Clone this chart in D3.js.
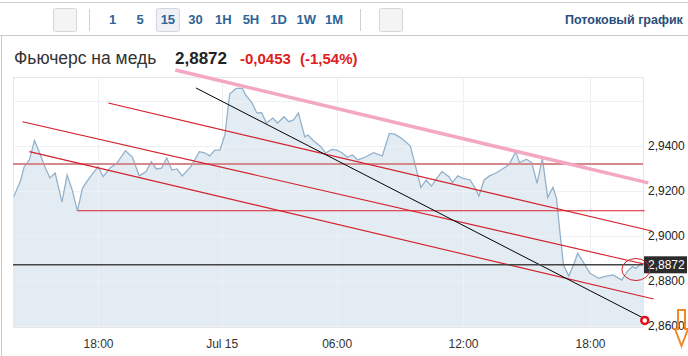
<!DOCTYPE html>
<html>
<head>
<meta charset="utf-8">
<style>
  body { margin: 0; background: #fff; }
  svg { display: block; font-family: "Liberation Sans", Arial, sans-serif; }
</style>
</head>
<body>
<div id="chart"></div>
<script src="https://d3js.org/d3.v7.min.js"></script>
<script>
// copper futures, 15 min bars, Jul 14 -> Jul 15 (day + time)
const times = [
  "14 13:55","14 14:15","14 14:25","14 14:40","14 14:55","14 15:10","14 15:25","14 15:40","14 15:55","14 16:15",
  "14 16:30","14 16:45","14 17:00","14 17:15","14 17:35","14 18:00","14 18:15","14 18:35","14 18:55","14 19:20",
  "14 19:40","14 20:00","14 20:20","14 20:35","14 20:50","14 21:05","14 21:20","14 21:35","14 21:50","14 22:05",
  "14 22:30","14 22:55","14 23:10","14 23:25","14 23:40","14 23:55",
  "15 00:10","15 00:25","15 00:45","15 01:05","15 01:15","15 01:35","15 01:50","15 02:05","15 02:20","15 02:40",
  "15 02:55","15 03:15","15 03:30","15 03:45","15 04:00","15 04:20","15 04:30","15 04:45","15 05:10","15 05:25",
  "15 05:45","15 06:00","15 06:15","15 06:30","15 06:45","15 07:00","15 07:20","15 07:45","15 08:10","15 08:30",
  "15 08:45","15 09:05","15 09:30","15 09:45","15 10:00","15 10:15","15 10:30","15 10:45","15 11:00","15 11:20",
  "15 11:30","15 11:45","15 12:00","15 12:20","15 12:35","15 12:45","15 13:00","15 13:15","15 13:35","15 13:55",
  "15 14:10","15 14:20","15 14:30","15 14:40","15 15:00","15 15:15","15 15:30","15 15:45","15 16:00","15 16:15",
  "15 16:25","15 16:35","15 16:45","15 17:00","15 17:15","15 17:25","15 17:40","15 18:00","15 18:25","15 18:40",
  "15 19:05","15 19:30","15 19:45","15 20:00","15 20:10","15 20:25","15 20:30"
];
const prices = [
  2.9175,2.9249,2.9308,2.9338,2.9424,2.9369,2.9308,2.9258,2.9280,2.9152,
  2.9271,2.9204,2.9112,2.9213,2.9258,2.9308,2.9264,2.9302,2.9324,2.9379,
  2.9351,2.9267,2.9286,2.9330,2.9298,2.9302,2.9347,2.9293,2.9298,2.9267,
  2.9308,2.9375,2.9370,2.9356,2.9382,2.9382,
  2.9449,2.9631,2.9656,2.9656,2.9627,2.9591,2.9547,2.9548,2.9502,2.9524,
  2.9502,2.9530,2.9508,2.9516,2.9547,2.9441,2.9449,2.9427,2.9397,2.9369,
  2.9385,2.9382,2.9370,2.9350,2.9360,2.9338,2.9350,2.9370,2.9356,2.9456,
  2.9453,2.9434,2.9400,2.9308,2.9216,2.9249,2.9222,2.9256,2.9286,2.9264,
  2.9237,2.9267,2.9256,2.9249,2.9212,2.9178,2.9249,2.9267,2.9281,2.9301,
  2.9316,2.9345,2.9375,2.9326,2.9341,2.9326,2.9234,2.9345,2.9172,2.9216,
  2.9168,2.9013,2.8871,2.8822,2.8879,2.8923,2.8886,2.8834,2.8812,2.8819,
  2.8827,2.8804,2.8841,2.8864,2.8856,2.8879,2.8872
];

const lastPrice = 2.8872;
const change = -0.0453;
const changePct = -1.54;

const xTicks = ["14 18:00","15 00:00","15 06:00","15 12:00","15 18:00"];
const yTicks = [2.86, 2.88, 2.90, 2.92, 2.94];
const yGrid = [2.86, 2.88, 2.90, 2.92, 2.94, 2.96];

const periods = ["1","5","15","30","1H","5H","1D","1W","1M"];
const activePeriod = "15";

// drawn annotations: [time, price] end points
const pinkTrend = [["14 21:45", 2.9738], ["15 20:45", 2.9236]];
const blackTrend = [["14 22:45", 2.9658], ["15 20:30", 2.8636]];
const redTrends = [
  [["14 18:30", 2.9591], ["15 20:55", 2.9022]],
  [["14 14:20", 2.9508], ["15 20:45", 2.8871]],
  [["14 14:40", 2.9375], ["15 21:00", 2.8720]]
];
const supportLine = [["14 17:00", 2.9112], ["15 20:35", 2.9112]];
const resistanceLevel = 2.9320;
const targetPoint = ["15 20:35", 2.8625];
const circledPoint = ["15 20:10", 2.8851];

const W = 688, H = 356;
const plot = { left: 13, right: 643, top: 77, bottom: 327 };

const parse = d3.timeParse("%d %H:%M");
const data = times.map((t, i) => ({ t: parse(t), v: prices[i] }));

const ru = d3.formatLocale({ decimal: ",", thousands: " ", grouping: [3], currency: ["", ""], minus: "-" });
const fmt4 = ru.format(".4f");

const x = d3.scaleTime()
  .domain(["14 13:50", "14 18:00", "15 00:00", "15 06:00", "15 12:00", "15 18:00", "15 20:30"].map(parse))
  .range([12.2, 98, 221.7, 336.7, 463, 590, 643]);
const y = d3.scaleLinear().domain([2.86, 2.94]).range([326, 146]);

const svg = d3.select("#chart").append("svg")
  .attr("width", W)
  .attr("height", H);

// ---- toolbar
svg.append("line").attr("x1", 0).attr("x2", W).attr("y1", 2.5).attr("y2", 2.5).attr("stroke", "#d0d0d0");
svg.append("line").attr("x1", 0).attr("x2", W).attr("y1", 35.5).attr("y2", 35.5).attr("stroke", "#c8c8c8");
svg.append("line").attr("x1", 1.5).attr("x2", 1.5).attr("y1", 35).attr("y2", H).attr("stroke", "#c8c8c8");

[53, 379].forEach(bx => {
  svg.append("rect").attr("x", bx + 0.5).attr("y", 8.5).attr("width", 23).attr("height", 23)
    .attr("rx", 2).attr("fill", "#f4f4f4").attr("stroke", "#d6d6d6");
});
[89, 360].forEach(sx => {
  svg.append("line").attr("x1", sx + 0.5).attr("x2", sx + 0.5).attr("y1", 9).attr("y2", 31).attr("stroke", "#cfcfcf");
});

const periodX = d3.scalePoint().domain(periods).range([112.5, 334]);
svg.append("rect")
  .attr("x", periodX(activePeriod) - 11.5).attr("y", 8.5).attr("width", 23).attr("height", 23)
  .attr("rx", 2).attr("fill", "#eef1f5").attr("stroke", "#d2d6dc");
svg.append("g").selectAll("text").data(periods).join("text")
  .attr("x", d => periodX(d)).attr("y", 24)
  .attr("text-anchor", "middle")
  .attr("font-size", 13).attr("font-weight", "bold").attr("fill", "#2f6496")
  .text(d => d);

svg.append("text").attr("x", 565).attr("y", 24)
  .attr("font-size", 12.5).attr("font-weight", "bold").attr("fill", "#284e7a")
  .text("Потоковый график");

// ---- title
const title = svg.append("text").attr("x", 14).attr("y", 64);
title.append("tspan").attr("font-size", 17.5).attr("fill", "#333").text("Фьючерс на медь");
title.append("tspan").attr("x", 175).attr("font-size", 17).attr("font-weight", "bold").attr("fill", "#222")
  .text(fmt4(lastPrice));
title.append("tspan").attr("x", 240).attr("font-size", 15).attr("font-weight", "bold").attr("fill", "#e0201e")
  .text(fmt4(change));
title.append("tspan").attr("x", 300).attr("font-size", 15).attr("font-weight", "bold").attr("fill", "#e0201e")
  .text("(" + ru.format(".2f")(changePct) + "%)");

// ---- plot frame + grid
svg.append("rect")
  .attr("x", plot.left + 0.5).attr("y", plot.top + 0.5)
  .attr("width", plot.right - plot.left).attr("height", plot.bottom - plot.top)
  .attr("fill", "#fff").attr("stroke", "#e6e6e6");

const area = d3.area().x(d => x(d.t)).y0(plot.bottom).y1(d => y(d.v));
const line = d3.line().x(d => x(d.t)).y(d => y(d.v));

svg.append("path").datum(data).attr("d", area).attr("fill", "#e4ecf3");

svg.append("g").selectAll("line").data(yGrid).join("line")
  .attr("x1", plot.left).attr("x2", plot.right)
  .attr("y1", d => Math.round(y(d)) + 0.5).attr("y2", d => Math.round(y(d)) + 0.5)
  .attr("stroke", "#edf1f5");
svg.append("g").selectAll("line").data(xTicks.map(parse)).join("line")
  .attr("x1", d => Math.round(x(d)) + 0.5).attr("x2", d => Math.round(x(d)) + 0.5)
  .attr("y1", plot.top).attr("y2", plot.bottom)
  .attr("stroke", "#edf1f5");

svg.append("path").datum(data).attr("d", line)
  .attr("fill", "none").attr("stroke", "#93b1cb").attr("stroke-width", 1.3);

// ---- axes
const xAxis = d3.axisBottom(x)
  .tickValues(xTicks.map(parse))
  .tickSize(0).tickPadding(0)
  .tickFormat(d => d.getHours() === 0 ? "Jul " + d3.timeFormat("%d")(d) : d3.timeFormat("%H:%M")(d));
const gx = svg.append("g").attr("transform", `translate(0,${plot.bottom + 12})`).call(xAxis);
gx.select(".domain").remove();
gx.selectAll("text").attr("font-size", 12).attr("fill", "#333").attr("font-family", null);

const yAxis = d3.axisRight(y).tickValues(yTicks).tickSize(0).tickPadding(5).tickFormat(fmt4);
const gy = svg.append("g").attr("transform", `translate(${plot.right},0)`).call(yAxis);
gy.select(".domain").remove();
gy.selectAll("text").attr("font-size", 12).attr("fill", "#222").attr("font-family", null);

// ---- annotations
const pt = p => [x(parse(p[0])), y(p[1])];
const seg = (pts, color, w) => svg.append("line")
  .attr("x1", pt(pts[0])[0]).attr("y1", pt(pts[0])[1])
  .attr("x2", pt(pts[1])[0]).attr("y2", pt(pts[1])[1])
  .attr("stroke", color).attr("stroke-width", w);

svg.append("line")
  .attr("x1", plot.left).attr("x2", plot.right)
  .attr("y1", y(resistanceLevel)).attr("y2", y(resistanceLevel))
  .attr("stroke", "#d4898c").attr("stroke-width", 2);

seg(supportLine, "#d8202a", 1.1);
redTrends.forEach(r => seg(r, "#d31f28", 1.1));
seg(pinkTrend, "#f4a7c3", 3.5);
seg(blackTrend, "#000", 1);

// last price line + label
svg.append("line")
  .attr("x1", plot.left).attr("x2", plot.right)
  .attr("y1", y(lastPrice)).attr("y2", y(lastPrice))
  .attr("stroke", "#444").attr("stroke-width", 1.4);
svg.append("rect")
  .attr("x", plot.right + 1).attr("y", y(lastPrice) - 8.5)
  .attr("width", 43).attr("height", 17).attr("fill", "#2b2b2b");
svg.append("text")
  .attr("x", plot.right + 5).attr("y", y(lastPrice)).attr("dy", "0.35em")
  .attr("font-size", 12).attr("fill", "#fff").text(fmt4(lastPrice));

svg.append("ellipse")
  .attr("cx", pt(circledPoint)[0]).attr("cy", pt(circledPoint)[1])
  .attr("rx", 14).attr("ry", 11)
  .attr("fill", "none").attr("stroke", "#d31f28").attr("stroke-width", 1);

svg.append("circle")
  .attr("cx", pt(targetPoint)[0]).attr("cy", pt(targetPoint)[1])
  .attr("r", 3.5).attr("fill", "#fff").attr("stroke", "#e0101a").attr("stroke-width", 2.5);

// orange down arrow
svg.append("path")
  .attr("d", "M678,310 L685,310 L685,329 L688,329 L681.5,346 L675,329 L678,329 Z")
  .attr("fill", "none").attr("stroke", "#f08a2a").attr("stroke-width", 2);
</script>
</body>
</html>
